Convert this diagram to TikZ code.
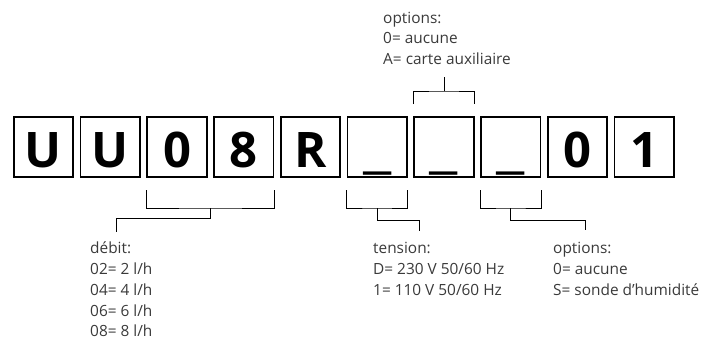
\documentclass[tikz,border=0pt]{standalone}
\usepackage{fontspec}
\setmainfont{Open Sans}
\usetikzlibrary{calc}
\definecolor{txt}{HTML}{3A3A3A}
\newcommand{\wideus}{\scalebox{1.4}[1]{\_}}
\begin{document}
\begin{tikzpicture}[x=1pt,y=-1pt,
  box/.style={draw, line width=1.6pt, minimum width=59.5pt, minimum height=60.5pt,
    inner sep=0pt, text height=40pt, text depth=0pt,
    font=\fontsize{49}{49}\selectfont\bfseries},
  lbl/.style={anchor=north west, align=left, inner sep=0pt, text=txt,
    font=\fontsize{15.4}{20.8}\selectfont},
  conn/.style={line width=0.8pt}]
\useasboundingbox (0,0) rectangle (711,341);
% boxes
\node[box] (b0) at (43.5,147) {U};
\node[box] (b1) at (110.25,147) {U};
\node[box] (b2) at (177,147) {0};
\node[box] (b3) at (243.75,147) {8};
\node[box] (b4) at (310.5,147) {R};
\node[box] (b5) at (377.25,147) {\wideus};
\node[box] (b6) at (444,147) {\wideus};
\node[box] (b7) at (510.75,147) {\wideus};
\node[box] (b8) at (577.5,147) {0};
\node[box] (b9) at (644.25,147) {1};
% labels
\node[lbl] (top) at (383,8.4) {\strut options:\\0= aucune\\A= carte auxiliaire};
\node[lbl] (debit) at (90,238.9) {\strut débit:\\02= 2 l/h\\04= 4 l/h\\06= 6 l/h\\08= 8 l/h};
\node[lbl] (tension) at (373,238.9) {\strut tension:\\D= 230 V 50/60 Hz\\1= 110 V 50/60 Hz};
\node[lbl] (opt) at (553,238.9) {\strut options:\\0= aucune\\S= sonde d’humidité};
% connector ends
\coordinate (dk) at (116,232);
\coordinate (tk) at (419,231);
\coordinate (ok) at (585,230);
\coordinate (topk) at (444,77);
\coordinate (dm) at ($(b2.south west)!.5!(b3.south east)$);
\coordinate (tm) at (b5.south);
\coordinate (om) at (b7.south);
% debit bracket
\draw[conn] (b2.south west |- 0,190) |- (dm |- 0,208) -| (b3.south east |- 0,190);
\draw[conn] (dm |- 0,208) -- (dm |- 0,218) -| (dk);
% tension bracket
\draw[conn] (b5.south west |- 0,190) |- (tm |- 0,208) -| (b5.south east |- 0,190);
\draw[conn] (tm |- 0,208) -- (tm |- 0,220) -| (tk);
% options bracket (bottom)
\draw[conn] (b7.south west |- 0,190) |- (om |- 0,208) -| (b7.south east |- 0,190);
\draw[conn] (om |- 0,208) -- (om |- 0,220) -| (ok);
% options bracket (top)
\draw[conn] (b6.north west |- 0,104) |- (b6.north |- 0,91) -| (b6.north east |- 0,104);
\draw[conn] (b6.north |- 0,91) -- (topk);
\end{tikzpicture}
\end{document}
